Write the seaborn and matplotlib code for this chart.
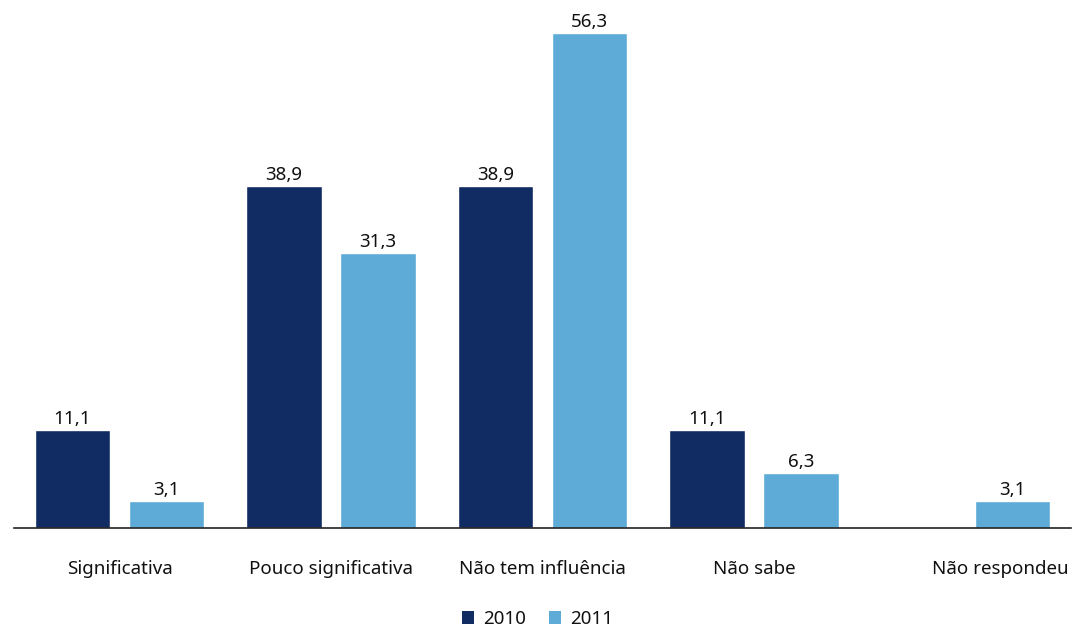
import numpy as np
import pandas as pd
import matplotlib
matplotlib.use("Agg")
import matplotlib.pyplot as plt
import matplotlib.transforms as mtransforms
import seaborn as sns
from matplotlib.patches import Patch

categories = ["Significativa", "Pouco significativa", "Não tem influência", "Não sabe", "Não respondeu"]
years = ["2010", "2011"]
values_2010 = [11.1, 38.9, 38.9, 11.1, np.nan]
values_2011 = [3.1, 31.3, 56.3, 6.3, 3.1]
colors = ["#112B63", "#5DABD6"]

df = pd.DataFrame({
    "categoria": categories * 2,
    "ano": [years[0]] * len(categories) + [years[1]] * len(categories),
    "valor": values_2010 + values_2011,
})

sns.set_theme(style="white")
plt.rcParams["font.family"] = ["Noto Sans", "DejaVu Sans"]

W, H = 1075, 631
FS = 13.5
TXT = "#111111"
fig = plt.figure(figsize=(W / 100, H / 100), dpi=100)
ax = fig.add_axes([13.75 / W, 103 / H, (1071.25 - 13.75) / W, 528 / H])

sns.barplot(data=df, x="categoria", y="valor", hue="ano", order=categories,
            hue_order=years, palette=colors, width=0.889, gap=0.2,
            saturation=1, errorbar=None, legend=False, ax=ax)

# value labels above each drawn bar (missing values have no bar)
for container in ax.containers:
    for bar, v in zip(container.patches, container.datavalues):
        if bar is None or np.isnan(v):
            continue
        x = bar.get_x() + bar.get_width() / 2
        ax.annotate(f"{v:.1f}".replace(".", ","), (x, bar.get_height()),
                    xytext=(0, 1.5), textcoords="offset points",
                    ha="center", va="bottom", fontsize=FS, color=TXT)

ax.set_xlim(-0.5, 4.5)
ax.set_ylim(0, 60.05)
ax.set_xlabel("")
ax.set_ylabel("")
ax.set_yticks([])
ax.tick_params(axis="x", length=0, pad=23, labelsize=FS, labelcolor=TXT)
for side in ["top", "right", "left"]:
    ax.spines[side].set_visible(False)
ax.spines["bottom"].set_color("#222222")
ax.spines["bottom"].set_linewidth(1.2)

# keep the last category label inside the right edge
last = ax.get_xticklabels()[-1]
last.set_transform(last.get_transform() +
                   mtransforms.ScaledTranslation(35 / 100, 0, fig.dpi_scale_trans))

handles = [Patch(facecolor=c, edgecolor="none") for c in colors]
fig.legend(handles, years, loc="center", bbox_to_anchor=(0.5, 1 - 619 / H),
           ncol=2, frameon=False, fontsize=FS, handlelength=0.65, handleheight=0.65,
           handletextpad=0.5, columnspacing=1.2, labelcolor=TXT)

fig.savefig("out.png", dpi=100)
